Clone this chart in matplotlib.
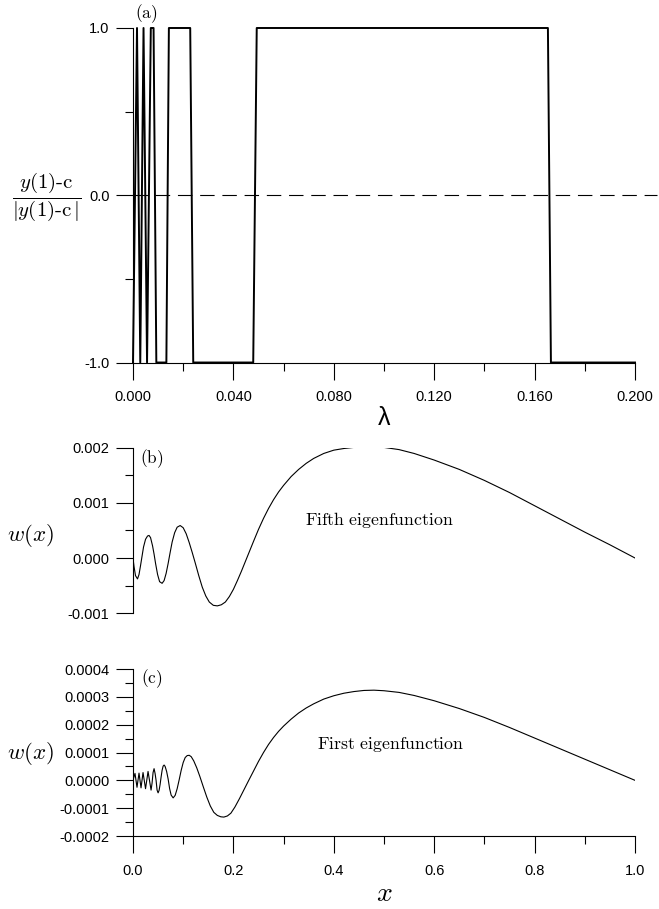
import numpy as np
import matplotlib.pyplot as plt
from matplotlib.ticker import MultipleLocator, FormatStrFormatter

plt.rcParams['font.family'] = ['Liberation Sans', 'DejaVu Sans']
plt.rcParams['mathtext.fontset'] = 'cm'

# (a) sign of y(1)-c against lambda (corner points of the curve)
lam = [0.0000, 0.0016, 0.0029, 0.0042, 0.0056, 0.0071, 0.0082, 0.0093,
       0.0133, 0.0143, 0.0228, 0.0240, 0.0479, 0.0493, 0.1653, 0.1665, 0.2000]
sgn = [-1, 1, -1, 1, -1, 1, 1, -1, -1, 1, 1, -1, -1, 1, 1, -1, -1]

# (b) fifth eigenfunction
x5 = [0.000, 0.002, 0.005, 0.009, 0.012, 0.015, 0.018, 0.021, 0.025, 0.029,
      0.032, 0.035, 0.039, 0.042, 0.045, 0.049, 0.053, 0.058, 0.062, 0.066,
      0.070, 0.074, 0.078, 0.083, 0.088, 0.094, 0.100, 0.106, 0.112, 0.118,
      0.124, 0.131, 0.138, 0.145, 0.152, 0.160, 0.168, 0.176, 0.184, 0.192,
      0.200, 0.208, 0.216, 0.224, 0.232, 0.240, 0.250, 0.260, 0.270, 0.280,
      0.290, 0.300, 0.315, 0.330, 0.345, 0.360, 0.380, 0.400, 0.420, 0.440,
      0.460, 0.480, 0.500, 0.530, 0.560, 0.600, 0.650, 0.700, 0.750, 0.800,
      0.850, 0.900, 0.950, 1.000]
w5 = [0.0, -1.5e-4, -3.2e-4, -3.8e-4, -3.0e-4, -1.4e-4, 0.3e-4, 2.0e-4, 3.4e-4, 4.0e-4,
      4.1e-4, 3.7e-4, 2.2e-4, 0.7e-4, -1.0e-4, -3.0e-4, -4.3e-4, -4.6e-4, -4.1e-4, -2.8e-4,
      -1.0e-4, 1.0e-4, 2.9e-4, 4.6e-4, 5.6e-4, 5.9e-4, 5.5e-4, 4.4e-4, 2.8e-4, 1.0e-4,
      -0.9e-4, -3.2e-4, -5.3e-4, -6.9e-4, -8.0e-4, -8.6e-4, -8.7e-4, -8.5e-4, -8.0e-4, -7.0e-4,
      -5.7e-4, -4.1e-4, -2.4e-4, -0.6e-4, 1.2e-4, 3.0e-4, 5.2e-4, 7.2e-4, 9.0e-4, 10.6e-4,
      12.0e-4, 13.2e-4, 14.8e-4, 16.1e-4, 17.2e-4, 18.1e-4, 19.0e-4, 19.6e-4, 19.9e-4, 20.1e-4,
      20.2e-4, 20.2e-4, 20.1e-4, 19.7e-4, 19.0e-4, 17.8e-4, 16.1e-4, 14.1e-4, 11.9e-4, 9.5e-4,
      7.1e-4, 4.7e-4, 2.4e-4, 0.0]

# (c) first eigenfunction
x1 = [0.000, 0.004, 0.008, 0.012, 0.016, 0.020, 0.025, 0.030, 0.036, 0.038,
      0.040, 0.042, 0.044, 0.046, 0.048, 0.050, 0.052, 0.054, 0.056, 0.058,
      0.060, 0.062, 0.064, 0.067, 0.070, 0.073, 0.076, 0.080, 0.084, 0.088,
      0.092, 0.096, 0.100, 0.104, 0.108, 0.112, 0.116, 0.121, 0.127, 0.133,
      0.140, 0.147, 0.154, 0.161, 0.168, 0.175, 0.181, 0.188, 0.195, 0.203,
      0.212, 0.221, 0.230, 0.240, 0.250, 0.260, 0.270, 0.280, 0.290, 0.300,
      0.315, 0.330, 0.345, 0.360, 0.380, 0.400, 0.420, 0.440, 0.460, 0.480,
      0.500, 0.530, 0.560, 0.600, 0.650, 0.700, 0.750, 0.800, 0.850, 0.900,
      0.950, 1.000]
w1 = [0.0, 2.5e-5, -2.5e-5, 2.6e-5, -2.7e-5, 2.8e-5, -3.0e-5, 3.2e-5, -3.5e-5, -1.0e-5,
      2.8e-5, 4.2e-5, 2.5e-5, 0.0, -3.5e-5, -4.5e-5, -3.6e-5, -1.5e-5, 1.2e-5, 3.6e-5,
      5.1e-5, 5.5e-5, 5.0e-5, 3.2e-5, 0.5e-5, -3.0e-5, -5.3e-5, -6.3e-5, -5.4e-5, -3.0e-5,
      0.2e-5, 3.6e-5, 6.4e-5, 8.2e-5, 8.9e-5, 9.0e-5, 8.5e-5, 7.0e-5, 4.5e-5, 1.5e-5,
      -2.3e-5, -6.0e-5, -9.2e-5, -11.5e-5, -12.6e-5, -13.1e-5, -13.2e-5, -12.8e-5, -11.8e-5, -9.6e-5,
      -6.6e-5, -3.4e-5, -0.2e-5, 3.3e-5, 6.8e-5, 10.0e-5, 12.9e-5, 15.4e-5, 17.6e-5, 19.5e-5,
      22.0e-5, 24.2e-5, 26.0e-5, 27.5e-5, 29.2e-5, 30.4e-5, 31.3e-5, 31.9e-5, 32.3e-5, 32.4e-5,
      32.2e-5, 31.6e-5, 30.5e-5, 28.6e-5, 25.8e-5, 22.6e-5, 19.0e-5, 15.2e-5, 11.4e-5, 7.6e-5,
      3.8e-5, 0.0]

fig = plt.figure(figsize=(6.59, 9.09), dpi=100)
ax_a = fig.add_axes([0.2018, 0.6012, 0.7618, 0.3680])
ax_b = fig.add_axes([0.2018, 0.3256, 0.7618, 0.1816])
ax_c = fig.add_axes([0.2018, 0.0803, 0.7618, 0.1837])


def style(ax):
    ax.spines['top'].set_visible(False)
    ax.spines['right'].set_visible(False)
    for s in ax.spines.values():
        s.set_linewidth(0.8)
    ax.tick_params(which='major', direction='out', length=12, width=0.8,
                   labelsize=10.5, pad=5)
    ax.tick_params(which='minor', direction='out', length=5.5, width=0.8)
    ax.tick_params(axis='x', pad=8)


# panel (a)
ax_a.plot(lam, sgn, color='black', lw=1.4, clip_on=False)
ax_a.plot([0, 0.2088], [0, 0], color='black', lw=0.8, dashes=(13, 7), clip_on=False)
ax_a.set_xlim(0, 0.2)
ax_a.set_ylim(-1, 1)
style(ax_a)
ax_a.xaxis.set_major_locator(MultipleLocator(0.04))
ax_a.xaxis.set_minor_locator(MultipleLocator(0.02))
ax_a.xaxis.set_major_formatter(FormatStrFormatter('%.3f'))
ax_a.yaxis.set_major_locator(MultipleLocator(1.0))
ax_a.yaxis.set_minor_locator(MultipleLocator(0.5))
ax_a.yaxis.set_major_formatter(FormatStrFormatter('%.1f'))
ax_a.set_xlabel('λ', fontsize=18, labelpad=1)
ax_a.text(0.0052, 1.084, r'$\mathrm{(a)}$', fontsize=12.5, ha='center', va='center', clip_on=False)
fig.text(0.071, 0.784, r'$\dfrac{y(1)\text{-c}}{|y(1)\text{-c}\,|}$', fontsize=15,
         ha='center', va='center')

# panel (b)
ax_b.plot(x5, w5, color='black', lw=0.8)
ax_b.set_xlim(0, 1)
ax_b.set_ylim(-0.001, 0.002)
style(ax_b)
ax_b.spines['bottom'].set_visible(False)
ax_b.set_xticks([])
ax_b.yaxis.set_major_locator(MultipleLocator(0.001))
ax_b.yaxis.set_minor_locator(MultipleLocator(0.0005))
ax_b.yaxis.set_major_formatter(FormatStrFormatter('%.3f'))
ax_b.text(0.038, 0.00181, r'$\mathrm{(b)}$', fontsize=12.5, ha='center', va='center')
ax_b.text(0.343, 0.00069, r'$\mathrm{Fifth\ eigenfunction}$', fontsize=12.8, ha='left', va='center')
fig.text(0.047, 0.411, r'$w(x)$', fontsize=16.5, ha='center', va='center')

# panel (c)
ax_c.plot(x1, w1, color='black', lw=0.8)
ax_c.set_xlim(0, 1)
ax_c.set_ylim(-0.0002, 0.0004)
style(ax_c)
ax_c.xaxis.set_major_locator(MultipleLocator(0.2))
ax_c.xaxis.set_minor_locator(MultipleLocator(0.1))
ax_c.xaxis.set_major_formatter(FormatStrFormatter('%.1f'))
ax_c.yaxis.set_major_locator(MultipleLocator(0.0001))
ax_c.yaxis.set_minor_locator(MultipleLocator(0.00005))
ax_c.yaxis.set_major_formatter(FormatStrFormatter('%.4f'))
ax_c.text(0.038, 0.000365, r'$\mathrm{(c)}$', fontsize=12.5, ha='center', va='center')
ax_c.text(0.366, 0.00013, r'$\mathrm{First\ eigenfunction}$', fontsize=12.8, ha='left', va='center')
fig.text(0.047, 0.1716, r'$w(x)$', fontsize=16.5, ha='center', va='center')
fig.text(0.583, 0.016, r'$x$', fontsize=20, ha='center', va='center')

fig.savefig('out.png', dpi=100)
